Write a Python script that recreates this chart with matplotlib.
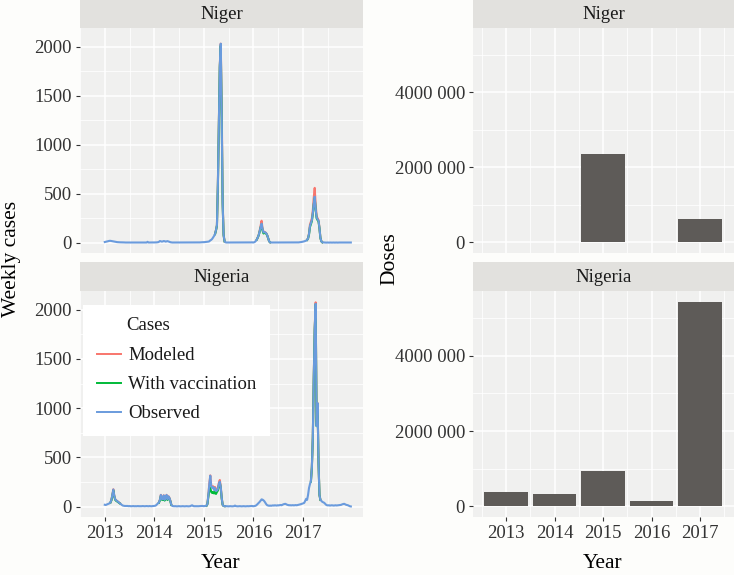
import numpy as np
import pandas as pd
import matplotlib
matplotlib.use('Agg')
import matplotlib.pyplot as plt
from matplotlib.lines import Line2D

plt.rcParams['font.family'] = ['Liberation Serif', 'DejaVu Serif']

# ---------------- data ----------------
countries = ['Niger', 'Nigeria']
series_names = ['Modeled', 'With vaccination', 'Observed']
series_colors = ['#F8766D', '#00BA38', '#6A9BDD']
legend_title = 'Cases'

# weekly observed cases (one sublist per year, weeks from 2013-01-01)
niger_obs_2013 = [8,10,12,15,18,20,20,18,17,15,12,10,8,7,6,6,5,5,4,4,4,3,3,3,4,3,3,3,3,2,3,3,3,3,2,3,3,2,3,3,3,3,2,3,3,10,3,3,2,3,3,4]
niger_obs_2014 = [3,3,4,5,6,10,18,15,12,14,18,16,12,15,17,14,10,6,4,3,3,3,2,3,3,2,3,3,2,2,3,3,2,3,3,2,3,3,2,3,3,3,2,3,3,3,3,4,4,5,5,6]
niger_obs_2015 = [6,7,8,9,10,12,15,25,30,40,55,70,90,130,180,600,1200,1800,2030,1300,400,80,15,
                  5,3,3,2,3,3,2,3,3,2,2,3,3,2,3,3,2,3,3,2,3,3,3,2,3,3,4,4,5]
niger_obs_2016 = [3,5,10,20,35,55,80,120,160,195,140,105,110,105,95,75,45,15,5,
                  3,3,2,3,3,2,3,3,2,3,3,2,2,3,3,2,3,3,2,3,3,3,2,3,3,2,3,3,3,4,5,6,8]
niger_obs_2017 = [10,12,15,18,22,30,45,90,170,200,230,300,400,470,350,260,240,225,150,50,15,5,
                  4,3,3,2,3,3,2,3,3,2,3,3,2,3,3,2,3,3,3,2,3,3,2,3,3,3,2,3,3,3]

nigeria_obs_2013 = [20,18,22,25,30,35,45,70,120,175,110,75,65,58,50,42,35,25,18,12,10,8,8,7,8,6,7,6,5,6,7,5,6,5,6,7,5,6,5,6,7,6,5,6,7,6,5,7,6,5,6,8]
nigeria_obs_2014 = [8,10,15,25,35,45,70,120,80,75,115,70,85,120,75,105,90,60,20,8,6,5,6,5,4,5,6,5,4,5,6,5,4,5,6,5,4,5,6,12,15,8,5,6,5,6,5,6,6,7,8,8]
nigeria_obs_2015 = [6,7,8,10,30,120,230,315,210,190,200,170,190,160,165,180,230,255,200,90,20,8,6,5,6,5,4,5,6,5,4,5,6,12,6,5,4,5,6,5,4,5,6,5,4,5,6,5,6,7,8,8]
nigeria_obs_2016 = [5,6,8,12,20,30,40,50,62,75,72,65,55,40,25,15,12,10,12,10,12,14,12,15,13,12,15,14,16,18,15,20,25,28,30,25,20,18,15,16,14,15,16,14,15,17,15,18,20,22,25,28]
nigeria_obs_2017 = [30,35,40,60,80,70,120,190,230,260,400,700,1300,1800,2060,820,1050,450,120,70,60,50,45,40,30,
                    20,15,14,15,12,14,15,13,12,14,15,13,14,16,15,18,20,25,28,30,25,20,18,15,10,5,3]

# modeled / with-vaccination series: (first week index, weekly values)
niger_modeled = [(116, [90,130,180,610,1210,1810,2030,1420,430,85,15]),
                 (160, [35,56,82,125,175,225,145,108,112,106,95,75,45,15,5]),
                 (213, [30,47,95,185,215,250,330,460,560,390,275,250,232,155,52,15,5])]
niger_vacc = [(116, [88,126,175,590,1190,1790,2010,1290,395,78,15]),
              (160, [34,54,78,115,155,188,125,95,100,100,92,73,44,15,5]),
              (213, [29,44,85,160,190,220,290,390,455,340,250,232,218,145,49,15,5])]
nigeria_modeled = [(6, [45,70,121,177,111,76,66,58,50,42,35]),
                   (57, [45,71,121,81,76,116,71,86,121,76,106,91,61,20]),
                   (107, [10,30,121,233,318,213,195,208,185,200,172,178,192,242,272,205,92,20,8,6]),
                   (217, [262,405,710,1310,1815,2075,825,1052,452,120,70])]
nigeria_vacc = [(6, [43,66,112,165,104,70,60,54,47,40,33]),
                (57, [42,64,108,72,68,102,63,76,108,68,94,82,55,19]),
                (107, [10,28,105,175,190,150,140,150,135,150,130,150,165,215,245,190,86,20,8,6]),
                (217, [255,395,695,1295,1795,2055,818,1048,448,119,70])]

# doses per year
dose_years = [2013, 2014, 2015, 2016, 2017]
niger_doses = [0, 0, 2360000, 25000, 630000]
nigeria_doses = [376000, 340000, 940000, 134000, 5420000]
dose_ticks = [0, 2000000, 4000000]
dose_tick_labels = ['0', '2000 000', '4000 000']
case_ticks = [0, 500, 1000, 1500, 2000]
year_ticks = [2013, 2014, 2015, 2016, 2017]

# ---------------- derived ----------------
niger_obs = niger_obs_2013 + niger_obs_2014 + niger_obs_2015 + niger_obs_2016 + niger_obs_2017
nigeria_obs = nigeria_obs_2013 + nigeria_obs_2014 + nigeria_obs_2015 + nigeria_obs_2016 + nigeria_obs_2017
dates = pd.date_range('2013-01-01', periods=len(niger_obs), freq='7D')
xdec = np.asarray(dates.year + (dates.dayofyear - 1) / np.where(dates.is_leap_year, 366, 365), dtype=float)

# ---------------- style ----------------
W, H = 734, 575
BG = '#FDFDFB'
PANEL = '#F0F0EF'
STRIP = '#E2E1DE'
BAR = '#5E5B58'
TICKC = '#333333'
FS = 13.5
TITLE_FS = 15.5
LW = 1.5

fig = plt.figure(figsize=(W / 100, H / 100), dpi=100, facecolor=BG)


def rect(x0, y0, x1, y1):
    return [x0 / W, 1 - y1 / H, (x1 - x0) / W, (y1 - y0) / H]


def style_panel(ax):
    ax.set_facecolor(PANEL)
    for s in ax.spines.values():
        s.set_visible(False)
    ax.grid(True, which='major', color='white', linewidth=1.1)
    ax.grid(True, which='minor', color='white', linewidth=0.55)
    ax.set_axisbelow(True)
    ax.tick_params(which='major', length=3.2, width=0.8, color=TICKC,
                   labelcolor=TICKC, labelsize=FS, pad=2.5)
    ax.tick_params(which='minor', length=0)


def strip(x0, y0, x1, y1, label):
    s = fig.add_axes(rect(x0, y0, x1, y1))
    s.set_facecolor(STRIP)
    for sp in s.spines.values():
        sp.set_visible(False)
    s.set_xticks([])
    s.set_yticks([])
    s.text(0.5, 0.47, label, ha='center', va='center', fontsize=FS, color='#1A1A1A',
           transform=s.transAxes)


LX = (80, 363)
RX = (473, 734)
rows = [((0, 28), (28, 253)), ((262, 291), (291, 517))]

obs_list = [niger_obs, nigeria_obs]
mod_list = [niger_modeled, nigeria_modeled]
vac_list = [niger_vacc, nigeria_vacc]
dose_list = [niger_doses, nigeria_doses]

for i, c in enumerate(countries):
    (sy0, sy1), (py0, py1) = rows[i]
    # ---- left: weekly cases ----
    strip(LX[0], sy0, LX[1], sy1, c)
    ax = fig.add_axes(rect(LX[0], py0, LX[1], py1))
    style_panel(ax)
    for start, vals in mod_list[i]:
        ax.plot(xdec[start:start + len(vals)], vals, color=series_colors[0], lw=LW)
    for start, vals in vac_list[i]:
        ax.plot(xdec[start:start + len(vals)], vals, color=series_colors[1], lw=LW)
    ax.plot(xdec, obs_list[i], color=series_colors[2], lw=LW)
    ax.set_xlim(2012.75, 2018.21)
    ax.set_ylim(-104, 2190)
    ax.set_yticks(case_ticks)
    ax.set_yticks([250, 750, 1250, 1750], minor=True)
    ax.set_xticks(year_ticks)
    ax.set_xticks([2012.5 + k for k in range(6)], minor=True)
    if i == 0:
        ax.tick_params(axis='x', which='major', length=0, labelbottom=False)
    else:
        ax.set_xticklabels([str(y) for y in year_ticks])
        handles = [Line2D([0], [0], color=col, lw=1.4) for col in series_colors]
        leg = ax.legend(handles, series_names, title=' ', loc='upper left',
                        bbox_to_anchor=(0.011, 0.938), borderaxespad=0,
                        frameon=True, facecolor='white', edgecolor='none', framealpha=1,
                        fontsize=FS, title_fontsize=FS, handlelength=1.3,
                        handletextpad=0.4, labelspacing=0.63, borderpad=0.72,
                        alignment='left', fancybox=False)
        for t in leg.get_texts():
            t.set_color('#1A1A1A')
        ax.text((126 - LX[0]) / (LX[1] - LX[0]), 1 - (325 - py0) / (py1 - py0), legend_title,
                transform=ax.transAxes, ha='left', va='center', fontsize=FS,
                color='#1A1A1A', zorder=10)

    # ---- right: doses ----
    strip(RX[0], sy0, RX[1], sy1, c)
    bx = fig.add_axes(rect(RX[0], py0, RX[1], py1))
    style_panel(bx)
    bx.bar(dose_years, dose_list[i], width=0.9, color=BAR, linewidth=0)
    bx.set_xlim(2012.32, 2017.70)
    bx.set_ylim(-280000, 5720000)
    bx.set_yticks(dose_ticks)
    bx.set_yticklabels(dose_tick_labels)
    bx.set_yticks([1000000, 3000000, 5000000], minor=True)
    bx.set_xticks(year_ticks)
    bx.set_xticks([2012.5 + k for k in range(6)], minor=True)
    if i == 0:
        bx.tick_params(axis='x', which='major', length=0, labelbottom=False)
    else:
        bx.set_xticklabels([str(y) for y in year_ticks])

# axis titles
fig.text(12 / W, 1 - 259 / H, 'Weekly cases', rotation=90, ha='center', va='center', fontsize=TITLE_FS)
fig.text(390 / W, 1 - 259 / H, 'Doses', rotation=90, ha='center', va='center', fontsize=TITLE_FS)
fig.text(221 / W, 1 - 563 / H, 'Year', ha='center', va='center', fontsize=TITLE_FS)
fig.text(603 / W, 1 - 563 / H, 'Year', ha='center', va='center', fontsize=TITLE_FS)

fig.savefig('out.png', dpi=100, facecolor=BG)
